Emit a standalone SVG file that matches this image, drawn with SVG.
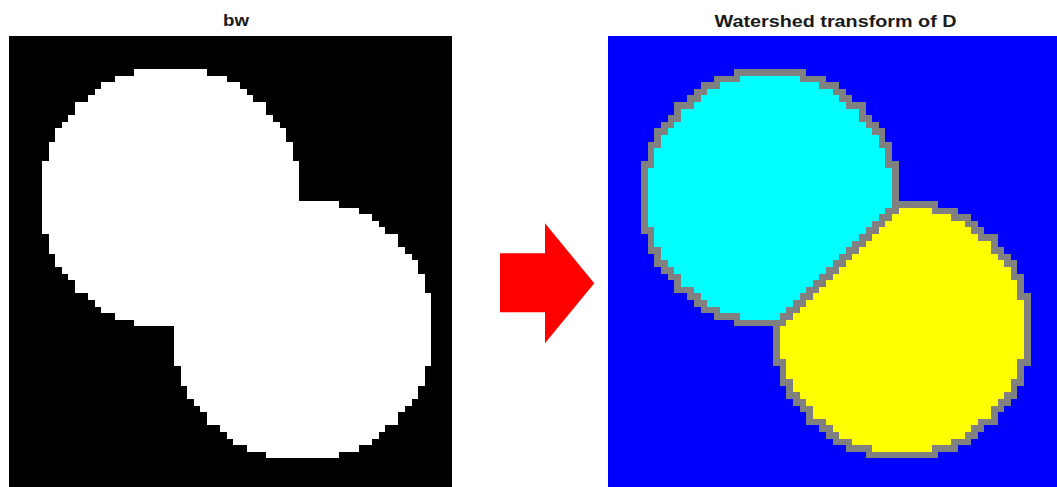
<svg xmlns="http://www.w3.org/2000/svg" xmlns:xlink="http://www.w3.org/1999/xlink" width="1057" height="487" viewBox="0 0 1057 487">
<style>
.title{font-family:"Liberation Sans",Arial,sans-serif;font-weight:bold;font-size:16.5px;fill:#1a1a1a;text-anchor:middle}
.px{shape-rendering:crispEdges}
</style>
<defs>
<path id="blob" d="M19 5h11v1h-11z M16 6h17v1h-17z M14 7h21v1h-21z M13 8h23v1h-23z M12 9h25v1h-25z M10 10h29v2h-29z M9 12h31v1h-31z M8 13h33v1h-33z M7 14h35v2h-35z M6 16h37v3h-37z M5 19h39v6h-39z M5 25h45v1h-45z M5 26h48v1h-48z M5 27h50v1h-50z M5 28h51v1h-51z M5 29h52v1h-52z M6 30h53v2h-53z M6 32h54v1h-54z M7 33h54v1h-54z M7 34h55v1h-55z M8 35h54v1h-54z M9 36h54v1h-54z M10 37h53v2h-53z M12 39h52v1h-52z M13 40h51v1h-51z M14 41h50v1h-50z M16 42h48v1h-48z M19 43h45v1h-45z M25 44h39v6h-39z M26 50h37v3h-37z M27 53h35v2h-35z M28 55h33v1h-33z M29 56h31v1h-31z M30 57h29v2h-29z M32 59h25v1h-25z M33 60h23v1h-23z M34 61h21v1h-21z M36 62h17v1h-17z M39 63h11v1h-11z"/>
</defs>
<rect width="1057" height="487" fill="#ffffff"/>
<g id="panel-bw">
<text class="title" x="236" y="26" textLength="26" lengthAdjust="spacingAndGlyphs">bw</text>
<rect class="px" x="9" y="36" width="443.3" height="451" fill="#000000"/>
<g transform="translate(9,36) scale(6.6)">
<use xlink:href="#blob" href="#blob" fill="#ffffff" class="px"/>
</g>
</g>
<g id="panel-watershed">
<text class="title" x="835.5" y="26.5" textLength="242" lengthAdjust="spacingAndGlyphs">Watershed transform of D</text>
<rect class="px" x="608.3" y="36" width="448.7" height="451" fill="#0000ff"/>
<g transform="translate(608.3,36) scale(6.6)" class="px">
<use xlink:href="#blob" href="#blob" fill="#808080"/>
<path id="region-cyan" fill="#00ffff" d="M20 6h9v1h-9z M17 7h15v1h-15z M15 8h19v1h-19z M14 9h21v1h-21z M13 10h23v1h-23z M11 11h27v2h-27z M10 13h29v1h-29z M9 14h31v1h-31z M8 15h33v2h-33z M7 17h35v3h-35z M6 20h37v6h-37z M6 26h36v1h-36z M6 27h35v1h-35z M6 28h34v1h-34z M7 29h32v1h-32z M7 30h31v1h-31z M7 31h30v1h-30z M8 32h28v1h-28z M8 33h27v1h-27z M9 34h25v1h-25z M10 35h23v1h-23z M11 36h21v1h-21z M11 37h20v1h-20z M13 38h17v1h-17z M14 39h15v1h-15z M15 40h13v1h-13z M17 41h10v1h-10z M20 42h6v1h-6z"/>
<path id="region-yellow" fill="#ffff00" d="M44 26h5v1h-5z M43 27h9v1h-9z M42 28h12v1h-12z M41 29h14v1h-14z M40 30h16v1h-16z M39 31h19v1h-19z M38 32h20v1h-20z M37 33h22v1h-22z M36 34h24v1h-24z M35 35h26v1h-26z M34 36h27v1h-27z M33 37h29v1h-29z M32 38h30v1h-30z M31 39h31v1h-31z M30 40h33v1h-33z M29 41h34v1h-34z M28 42h35v1h-35z M27 43h36v1h-36z M26 44h37v5h-37z M27 49h35v3h-35z M28 52h33v2h-33z M29 54h31v1h-31z M30 55h29v1h-29z M31 56h27v2h-27z M33 58h23v1h-23z M34 59h21v1h-21z M35 60h19v1h-19z M37 61h15v1h-15z M40 62h9v1h-9z"/>
</g>
</g>
<g id="connectors">
<polygon id="arrow" points="500,253.3 545,253.3 545,223.3 594.3,283.3 545,343.3 545,312.3 500,312.3" fill="#ff0000"/>
</g>
</svg>
